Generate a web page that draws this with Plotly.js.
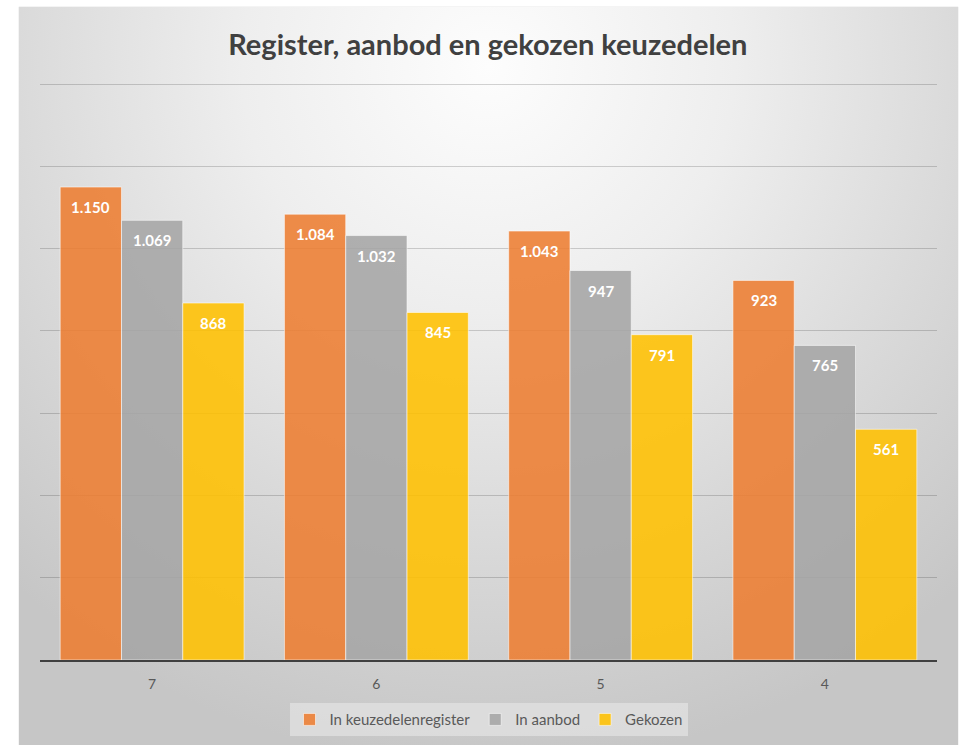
<!DOCTYPE html>
<html>
<head>
<meta charset="utf-8">
<script src="https://cdn.plot.ly/plotly-3.0.1.min.js"></script>
<style>
  html, body { margin: 0; padding: 0; background: #ffffff; }
  #frame {
    position: absolute; left: 19px; top: 7px; width: 939px; height: 738px;
    background: radial-gradient(ellipse 75% 95% at 50% 8%, #fdfdfd 0%, #eeeeee 35%, #d8d8d8 70%, #c6c6c6 100%);
    box-shadow: 0 0 1px #bbb;
  }
  #chart { position: absolute; left: 0; top: 0; width: 966px; height: 745px; }
</style>
</head>
<body>
<div id="frame"></div>
<div id="chart"></div>
<script>
const categories = ['7', '6', '5', '4'];
const seriesNames = ['In keuzedelenregister', 'In aanbod', 'Gekozen'];
const register = [1150, 1084, 1043, 923];
const aanbod = [1069, 1032, 947, 765];
const gekozen = [868, 845, 791, 561];
const registerLabels = ['1.150', '1.084', '1.043', '923'];
const aanbodLabels = ['1.069', '1.032', '947', '765'];
const gekozenLabels = ['868', '845', '791', '561'];
const colors = ['rgba(237,125,49,0.88)', 'rgba(165,165,165,0.88)', 'rgba(255,192,0,0.88)'];

const series = [register, aanbod, gekozen];
const labels = [registerLabels, aanbodLabels, gekozenLabels];
const bargap = 0.18;
const barW = (1 - bargap) / 3;

const traces = series.map((vals, i) => ({
  type: 'bar',
  name: seriesNames[i],
  x: categories,
  y: vals,
  marker: { color: colors[i], line: { color: 'rgba(255,255,255,0.55)', width: 1 } },
  hoverinfo: 'skip'
}));

const annotations = [];
series.forEach((vals, i) => {
  vals.forEach((v, j) => {
    annotations.push({
      x: j + (i - 1) * barW, y: v, xref: 'x', yref: 'y',
      text: '<b>' + labels[i][j] + '</b>', showarrow: false,
      yanchor: 'middle', yshift: -20,
      font: { family: 'Lato, "Open Sans", sans-serif', size: 15, color: '#ffffff' }
    });
  });
});

const layout = {
  width: 966, height: 745,
  paper_bgcolor: 'rgba(0,0,0,0)',
  plot_bgcolor: 'rgba(0,0,0,0)',
  margin: { l: 40, r: 29, t: 76, b: 85, autoexpand: false },
  title: {
    text: '<b>Register, aanbod en gekozen keuzedelen</b>',
    x: 0.505, xanchor: 'center', y: 0.94, yanchor: 'middle',
    font: { family: 'Lato, "Open Sans", sans-serif', size: 29, color: '#404040' }
  },
  barmode: 'group',
  bargap: bargap,
  bargroupgap: 0,
  showlegend: true,
  legend: {
    orientation: 'h', x: 0.5, xanchor: 'center',
    yref: 'container', y: 0.034, yanchor: 'middle',
    bgcolor: 'rgba(225,225,225,0.75)',
    font: { family: 'Lato, "Open Sans", sans-serif', size: 15, color: '#595959' },
    itemwidth: 30, traceorder: 'normal'
  },
  xaxis: {
    type: 'category',
    showgrid: false, zeroline: false,
    showline: true, linecolor: '#404040', linewidth: 2,
    ticks: '', tickfont: { family: 'Lato, "Open Sans", sans-serif', size: 14, color: '#595959' },
    ticklabelstandoff: 10
  },
  yaxis: {
    range: [0, 1420], tick0: 0, dtick: 200,
    showgrid: true, gridcolor: 'rgba(0,0,0,0.17)', gridwidth: 1,
    zeroline: false, showticklabels: false, ticks: '', fixedrange: true
  },
  annotations: annotations
};

Plotly.newPlot('chart', traces, layout, { displayModeBar: false, staticPlot: true });
</script>
</body>
</html>
